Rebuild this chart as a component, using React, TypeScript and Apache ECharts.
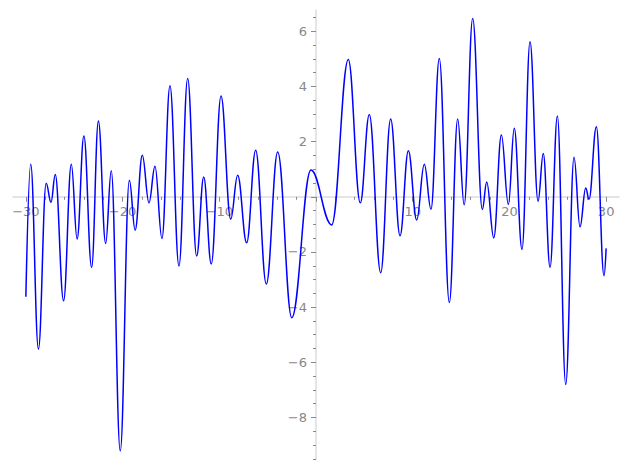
import React, { useEffect, useRef } from "react";
import * as echarts from "echarts";

// Extrema: [x, y]
const curvePoints: [number, number][] = [
  [-30.0, -3.62], [-29.5, 1.18], [-28.7, -5.52], [-27.9, 0.49], [-27.4, -0.2],
  [-26.96, 0.81], [-26.1, -3.77], [-25.3, 1.18], [-24.7, -1.53], [-24.0, 2.2],
  [-23.2, -2.56], [-22.5, 2.75], [-21.75, -1.69], [-21.17, 0.94], [-20.24, -9.21],
  [-19.3, 0.6], [-18.7, -1.21], [-17.96, 1.51], [-17.27, -0.22], [-16.65, 1.11],
  [-15.93, -1.51], [-15.1, 4.02], [-14.17, -2.51], [-13.27, 4.29], [-12.34, -2.15],
  [-11.61, 0.72], [-10.83, -2.44], [-9.82, 3.65], [-8.82, -0.81], [-8.1, 0.78],
  [-7.17, -1.67], [-6.24, 1.69], [-5.14, -3.16], [-3.96, 1.62], [-2.51, -4.38],
  [-0.52, 0.97], [1.62, -1.02], [3.34, 4.98], [4.58, -0.22], [5.51, 2.98],
  [6.69, -2.75], [7.72, 2.82], [8.69, -1.41], [9.55, 1.67], [10.41, -0.84],
  [11.2, 1.18], [11.89, -0.45], [12.75, 5.01], [13.79, -3.83], [14.65, 2.82],
  [15.32, -0.29], [16.2, 6.46], [17.2, -0.46], [17.65, 0.54], [18.38, -1.49],
  [19.17, 2.24], [19.89, -0.28], [20.5, 2.48], [21.3, -1.91], [22.13, 5.62],
  [22.96, -0.16], [23.5, 1.57], [24.2, -2.56], [24.96, 2.93], [25.82, -6.8],
  [26.68, 1.43], [27.3, -1.09], [27.89, 0.32], [28.23, -0.09], [28.99, 2.54],
  [29.78, -2.86], [30.0, -1.87],
];

const xMajorTicks = [-30, -20, -10, 0, 10, 20, 30];
const xMinorTicks = [-28, -26, -24, -22, -18, -16, -14, -12, -8, -6, -4, -2, 2, 4, 6, 8, 12, 14, 16, 18, 22, 24, 26, 28];
const yMajorTicks = [-8, -6, -4, -2, 0, 2, 4, 6];
const yMinorTicks = [-9.5, -9, -8.5, -7.5, -7, -6.5, -5.5, -5, -4.5, -3.5, -3, -2.5, -1.5, -1, -0.5, 0.5, 1, 1.5, 2.5, 3, 3.5, 4.5, 5, 5.5, 6.5];
const xTickLabels = [-30, -20, -10, 10, 20, 30];
const yTickLabels = [-8, -6, -4, -2, 2, 4, 6];

const xRange = [-31.33, 31.33];
const yRange = [-9.54, 6.77];

const fmt = (v: number) => String(v).replace("-", "\u2212");

export default function App() {
  const ref = useRef<HTMLDivElement>(null);
  useEffect(() => {
    if (!ref.current) return;
    const chart = echarts.init(ref.current, null, { renderer: "svg" });
    const labelColor = "#888888";
    const labelFont = "DejaVu Sans";
    const lineColor = "#dcdcdc";
    const tickColor = "#8a8a8a";
    chart.setOption({
      animation: false,
      backgroundColor: "#ffffff",
      grid: {
        left: 13,
        right: 8,
        top: 10,
        bottom: 10,
        containLabel: false,
        outerBoundsMode: "none",
      },
      xAxis: [
        {
          type: "value",
          min: xRange[0],
          max: xRange[1],
          axisLine: { show: true, onZero: true, onZeroAxisIndex: 0, lineStyle: { color: lineColor, width: 1.5 } },
          axisTick: { show: true, length: 5, customValues: xMajorTicks, lineStyle: { color: tickColor, width: 1 } },
          axisLabel: { show: false },
          splitLine: { show: false },
        },
        {
          type: "value",
          min: xRange[0],
          max: xRange[1],
          position: "bottom",
          axisLine: { show: false, onZero: true, onZeroAxisIndex: 0 },
          axisTick: { show: true, length: 3, customValues: xMinorTicks, lineStyle: { color: tickColor, width: 1 } },
          axisLabel: { show: false },
          splitLine: { show: false },
        },
      ],
      yAxis: [
        {
          type: "value",
          min: yRange[0],
          max: yRange[1],
          axisLine: { show: true, onZero: true, onZeroAxisIndex: 0, lineStyle: { color: lineColor, width: 1.5 } },
          axisTick: { show: true, length: 5, customValues: yMajorTicks, lineStyle: { color: tickColor, width: 1 } },
          axisLabel: { show: false },
          splitLine: { show: false },
        },
        {
          type: "value",
          min: yRange[0],
          max: yRange[1],
          position: "left",
          axisLine: { show: false, onZero: true, onZeroAxisIndex: 0 },
          axisTick: { show: true, length: 3, customValues: yMinorTicks, lineStyle: { color: tickColor, width: 1 } },
          axisLabel: { show: false },
          splitLine: { show: false },
        },
      ],
      series: [
        {
          type: "line",
          xAxisIndex: 0,
          yAxisIndex: 0,
          data: curvePoints,
          showSymbol: false,
          smooth: 0.4,
          smoothMonotone: "x",
          lineStyle: { color: "#0000ff", width: 1.5 },
          z: 5,
        },
      ],
    });

    // Tick labels placed next to the axes that cross at the origin
    const finder = { xAxisIndex: 0, yAxisIndex: 0 };
    const origin = chart.convertToPixel(finder, [0, 0]) as number[];
    const texts: any[] = [];
    xTickLabels.forEach((v) => {
      const p = chart.convertToPixel(finder, [v, 0]) as number[];
      texts.push({
        type: "text",
        x: p[0],
        y: origin[1] + 8,
        z: 1,
        style: {
          text: fmt(v),
          fill: labelColor,
          font: `13px "${labelFont}"`,
          textAlign: "center",
          textVerticalAlign: "top",
        },
      });
    });
    yTickLabels.forEach((v) => {
      const p = chart.convertToPixel(finder, [0, v]) as number[];
      texts.push({
        type: "text",
        x: origin[0] - 9,
        y: p[1],
        z: 1,
        style: {
          text: fmt(v),
          fill: labelColor,
          font: `13px "${labelFont}"`,
          textAlign: "right",
          textVerticalAlign: "middle",
        },
      });
    });
    chart.setOption({ graphic: texts });

    return () => chart.dispose();
  }, []);
  return (
    <div
      ref={ref}
      style={{ position: "fixed", left: 0, top: 0, width: 627, height: 470 }}
    />
  );
}
